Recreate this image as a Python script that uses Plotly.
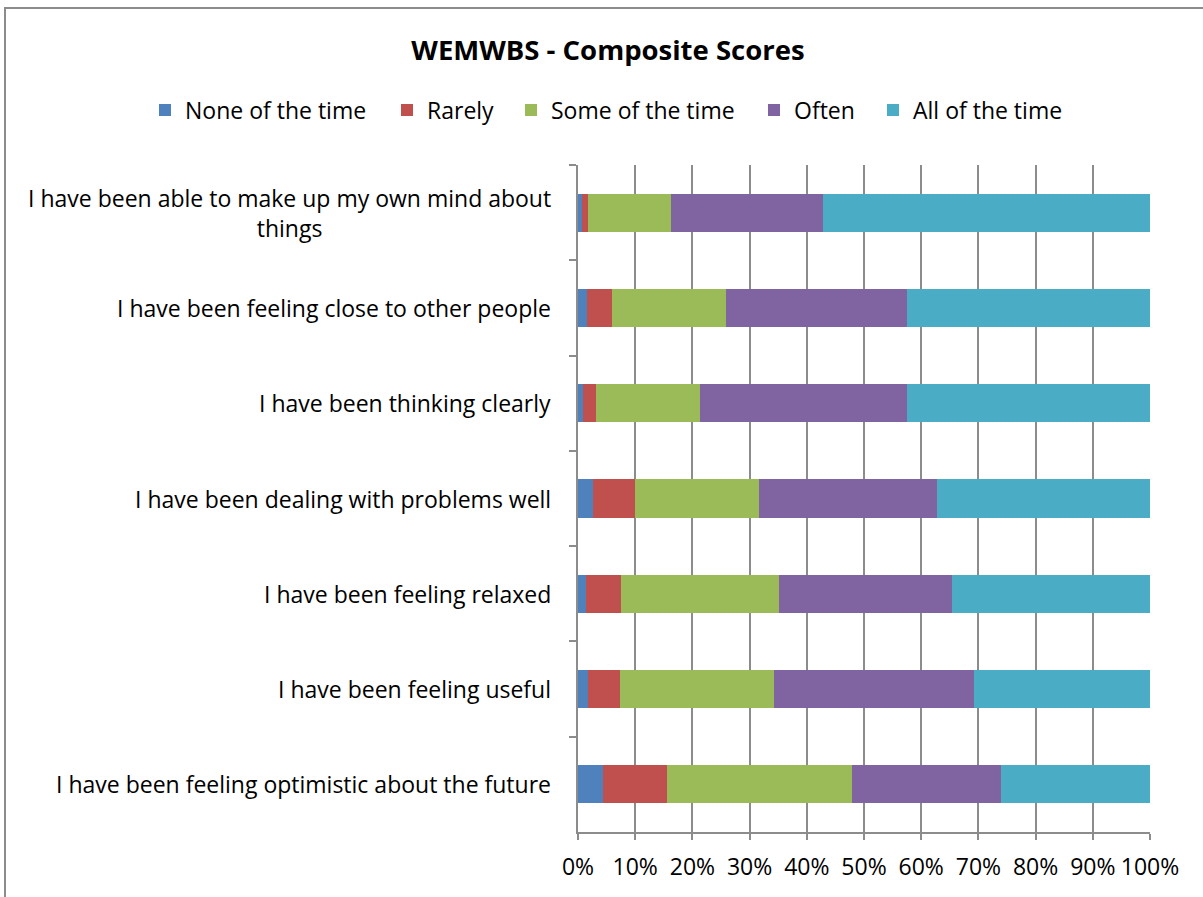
import plotly.graph_objects as go

categories = [
    "I have been able to make up my own mind about<br>things",
    "I have been feeling close to other people",
    "I have been thinking clearly",
    "I have been dealing with problems well",
    "I have been feeling relaxed",
    "I have been feeling useful",
    "I have been feeling optimistic about the future",
]

series_names = ["None of the time", "Rarely", "Some of the time", "Often", "All of the time"]

none_of_the_time = [0.7, 1.6, 0.8, 2.6, 1.4, 1.7, 4.4]
rarely = [1.0, 4.3, 2.3, 7.4, 6.2, 5.6, 11.2]
some_of_the_time = [14.5, 19.9, 18.2, 21.6, 27.6, 26.9, 32.3]
often = [26.6, 31.8, 36.2, 31.2, 30.1, 35.0, 26.1]
all_of_the_time = [57.2, 42.4, 42.5, 37.2, 34.7, 30.8, 26.0]

colors = ["#4F81BD", "#C0504D", "#9BBB59", "#8064A2", "#4BACC6"]

x_ticks = list(range(0, 101, 10))
x_tick_labels = [f"{v}%" for v in x_ticks]

FONT = "Open Sans"
FS = 23

# legend entry marker centres (page px)
legend_marker_x = [168, 410, 534, 777, 896]

W, H = 1203, 897
PL, PR, PT, PB = 578, 1150, 165, 832
L, T = PL, PT
R = W - PR
B = H - PB
pw, ph = W - L - R, H - T - B

def px_x(x):
    return (x - L) / pw

def px_y(y):
    return (H - B - y) / ph

fig = go.Figure()
legend_layouts = {}
for i, (name, vals, col) in enumerate(zip(
        series_names,
        [none_of_the_time, rarely, some_of_the_time, often, all_of_the_time],
        colors)):
    lkey = "legend" if i == 0 else f"legend{i + 1}"
    fig.add_trace(go.Bar(
        y=categories, x=vals, name=name, orientation="h",
        marker=dict(color=col, line=dict(width=0)),
        legend=lkey, showlegend=True,
    ))
    legend_layouts[lkey] = dict(
        orientation="h", xref="paper", x=px_x(legend_marker_x[i] - 23), xanchor="left",
        yref="paper", y=px_y(110), yanchor="middle",
        font=dict(size=FS, family=FONT, color="black"), itemwidth=30,
        bgcolor="rgba(0,0,0,0)")

fig.update_layout(
    showlegend=True,
    barmode="stack",
    bargap=0.6,
    width=W, height=H,
    margin=dict(l=L, r=R, t=T, b=B, autoexpand=False),
    paper_bgcolor="white",
    plot_bgcolor="white",
    font=dict(family=FONT, size=FS, color="black"),
    title=dict(text="<b>WEMWBS - Composite Scores</b>", xref="container", x=608 / W,
               xanchor="center", yref="container", y=1 - 50 / H, yanchor="middle",
               font=dict(size=27.5, family=FONT, color="black")),
    xaxis=dict(range=[0, 100], tickvals=x_ticks, ticktext=x_tick_labels, showgrid=True,
               gridcolor="#8C8C8C", gridwidth=1.5, showline=True, linecolor="#8C8C8C",
               linewidth=1.5, ticks="outside", ticklen=6, tickcolor="#8C8C8C",
               tickwidth=1.5, zeroline=False, ticklabelstandoff=8,
               tickfont=dict(size=FS, family=FONT)),
    yaxis=dict(autorange="reversed", showticklabels=False, showline=True,
               linecolor="#8C8C8C", linewidth=1.5, ticks="outside", ticklen=7,
               tickcolor="#8C8C8C", tickwidth=1.5, tickson="boundaries", showgrid=False),
    shapes=[dict(type="rect", xref="paper", yref="paper",
                 x0=px_x(5), x1=px_x(1230), y0=px_y(930), y1=px_y(8),
                 line=dict(color="#8C8C8C", width=2), fillcolor="rgba(0,0,0,0)", layer="below")],
    **legend_layouts,
)

for c in categories:
    fig.add_annotation(x=px_x(553), xref="paper", y=c, yref="y", text=c,
                       xanchor="right", yanchor="middle", align="center",
                       showarrow=False, font=dict(size=FS, family=FONT, color="black"))

fig.write_html("out.html", post_script="document.body.style.margin='0';",
               config={"displayModeBar": False})
